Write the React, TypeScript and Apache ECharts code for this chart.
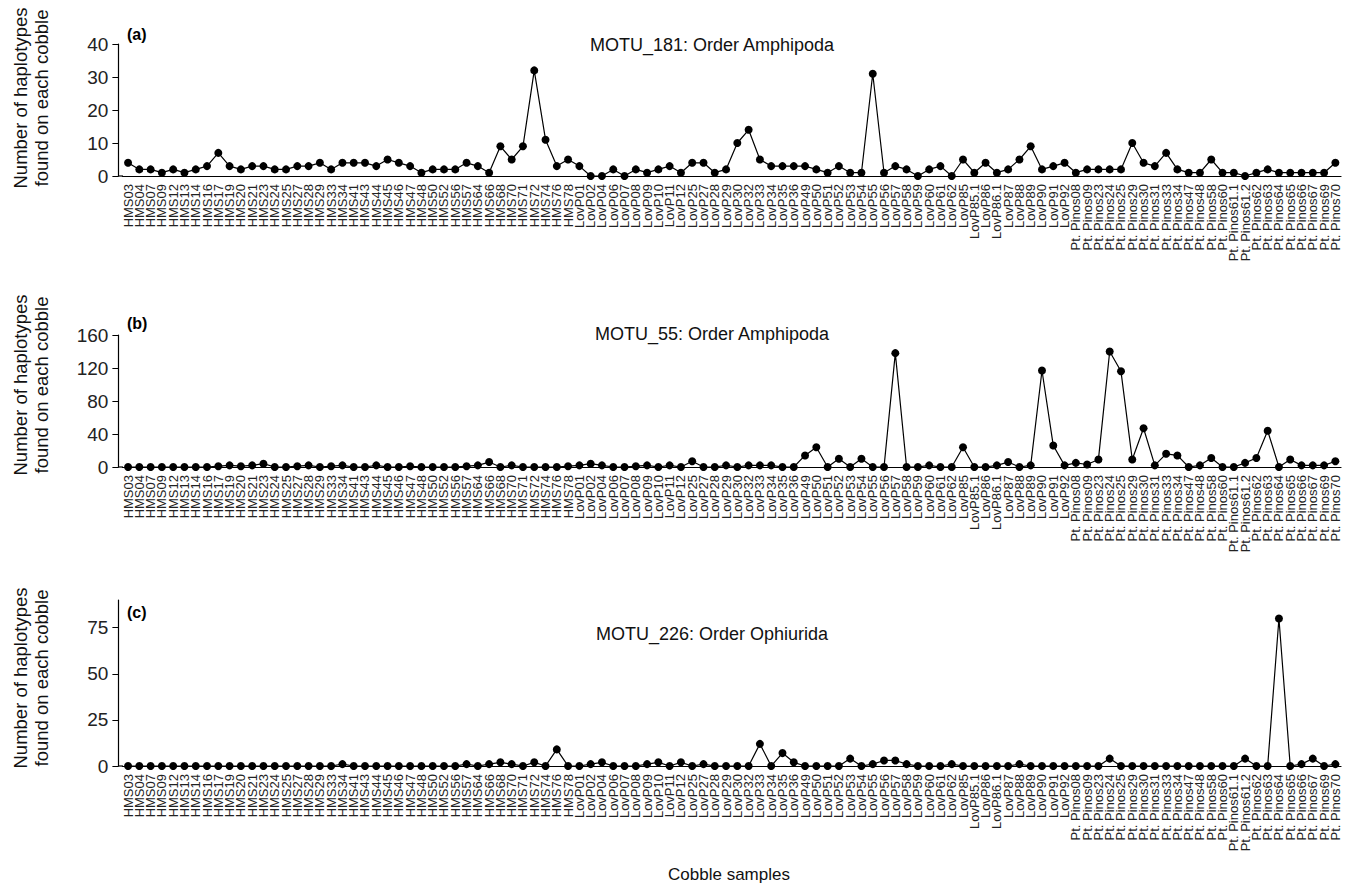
import React, { useEffect, useRef } from "react";
import * as echarts from "echarts";

const hmsLabels = ["HMS03","HMS04","HMS07","HMS09","HMS12","HMS13","HMS14","HMS16","HMS17","HMS19","HMS20","HMS21","HMS23","HMS24","HMS25","HMS27","HMS28","HMS29","HMS33","HMS34","HMS41","HMS43","HMS44","HMS45","HMS46","HMS47","HMS48","HMS50","HMS52","HMS56","HMS57","HMS64","HMS66","HMS68","HMS70","HMS71","HMS72","HMS74","HMS76","HMS78"];
const lovLabels = ["LovP01","LovP02","LovP04","LovP06","LovP07","LovP08","LovP09","LovP10","LovP11","LovP12","LovP25","LovP27","LovP28","LovP29","LovP30","LovP32","LovP33","LovP34","LovP35","LovP36","LovP49","LovP50","LovP51","LovP52","LovP53","LovP54","LovP55","LovP56","LovP57","LovP58","LovP59","LovP60","LovP61","LovP62","LovP85","LovP85.1","LovP86","LovP86.1","LovP87","LovP88","LovP89","LovP90","LovP91","LovP92"];
const ptLabels = ["Pt. Pinos08","Pt. Pinos09","Pt. Pinos23","Pt. Pinos24","Pt. Pinos25","Pt. Pinos29","Pt. Pinos30","Pt. Pinos31","Pt. Pinos33","Pt. Pinos34","Pt. Pinos47","Pt. Pinos48","Pt. Pinos58","Pt. Pinos60","Pt. Pinos61.1","Pt. Pinos61.2","Pt. Pinos62","Pt. Pinos63","Pt. Pinos64","Pt. Pinos65","Pt. Pinos66","Pt. Pinos67","Pt. Pinos69","Pt. Pinos70"];
const categories = [...hmsLabels, ...lovLabels, ...ptLabels];

const motu181 = [4,2,2,1,2,1,2,3,7,3,2,3,3,2,2,3,3,4,2,4,4,4,3,5,4,3,1,2,2,2,4,3,1,9,5,9,32,11,3,5,3,0,0,2,0,2,1,2,3,1,4,
  4,1,2,10,14,5,3,3,3,3,2,1,3,1,1,31,1,3,2,0,2,3,0,5,1,4,1,2,5,9,2,3,4,1,2,2,2,2,10,4,3,7,2,1,1,5,1,1,0,1,2,1,1,1,1,1,4];
const motu55 = [0,0,0,0,0,0,0,0,1,2,1,2,4,0,0,1,2,0,1,2,0,0,2,0,0,1,0,0,0,0,1,2,6,0,2,0,0,0,0,1,2,4,2,0,0,1,2,0,2,0,7,
  0,0,2,0,2,2,2,0,0,14,24,0,10,0,10,0,0,138,0,0,2,0,0,24,0,0,2,6,0,2,117,26,2,5,3,9,140,116,9,47,2,16,14,0,2,11,0,0,5,11,44,0,9,2,2,2,7];
const motu226 = [0,0,0,0,0,0,0,0,0,0,
  0,0,0,0,0,0,0,0,0,1,
  0,0,0,0,0,0,0,0,0,0,
  1,0,1,2,1,0,2,0,9,0,
  0,1,2,0,0,0,1,2,0,2,
  0,1,0,0,0,0,12,0,7,2,
  0,0,0,0,4,0,1,3,3,1,
  0,0,0,1,0,0,0,0,0,1,
  0,0,0,0,0,0,0,4,0,0,
  0,0,0,0,0,0,0,0,0,4,
  0,0,80,0,1,4,0,1];

const panelTags = ["(a)", "(b)", "(c)"];
const panelTitles = ["MOTU_181: Order Amphipoda", "MOTU_55: Order Amphipoda", "MOTU_226: Order Ophiurida"];
const yMax = [40, 160, 90];
const yInterval = [10, 40, 25];
const yName = ["Number of haplotypes", "found on each cobble"];
const xName = "Cobble samples";

const FONT = "'Liberation Sans', Arial, sans-serif";
const NARROW = "'Liberation Sans Narrow', 'Liberation Sans', Arial, sans-serif";

export default function App() {
  const ref = useRef<HTMLDivElement>(null);
  useEffect(() => {
    document.body.style.margin = "0";
    const chart = echarts.init(ref.current!, undefined, { renderer: "svg" });
    const grids = [
      { left: 122.4, right: 8, top: 44, height: 132 },
      { left: 122.4, right: 8, top: 335, height: 132 },
      { left: 122.4, right: 8, top: 600, height: 166 },
    ];
    const series = [motu181, motu55, motu226];
    const yCenters = [98, 385, 678];
    const tagY = [26, 315, 604];
    const titleY = [36, 325, 625];
    const graphic: any[] = [];
    for (let i = 0; i < 3; i++) {
      graphic.push({ type: "text", left: 127, top: tagY[i], style: { text: panelTags[i], font: `bold 16px ${FONT}`, fill: "#000" } });
      graphic.push({ type: "text", x: 712, y: titleY[i], style: { text: panelTitles[i], font: `18px ${FONT}`, fill: "#111", align: "center", verticalAlign: "top" } });
      graphic.push({ type: "text", x: 20, y: yCenters[i], rotation: Math.PI / 2, style: { text: yName[0], font: `18.5px ${FONT}`, fill: "#111", align: "center", verticalAlign: "middle" } });
      graphic.push({ type: "text", x: 41, y: yCenters[i], rotation: Math.PI / 2, style: { text: yName[1], font: `18.5px ${FONT}`, fill: "#111", align: "center", verticalAlign: "middle" } });
    }
    graphic.push({ type: "text", x: 729, y: 866, style: { text: xName, font: `17px ${NARROW}`, fill: "#111", align: "center", verticalAlign: "top" } });
    for (let i = 0; i < 3; i++) {
      const yb = grids[i].top + grids[i].height;
      graphic.push({ type: "line", shape: { x1: 118, y1: yb, x2: 123, y2: yb }, style: { stroke: "#000", lineWidth: 1.2 } });
    }

    chart.setOption({
      animation: false,
      grid: grids,
      xAxis: grids.map((_, i) => ({
        type: "category",
        gridIndex: i,
        data: categories,
        boundaryGap: true,
        axisLine: { lineStyle: { color: "#000", width: 1.2 } },
        axisTick: { alignWithLabel: true, length: 6, lineStyle: { color: "#000" } },
        axisLabel: { interval: 0, rotate: 90, margin: 8, fontSize: 13, fontFamily: FONT, color: "#222" },
      })),
      yAxis: grids.map((_, i) => ({
        type: "value",
        gridIndex: i,
        min: 0,
        max: yMax[i],
        interval: yInterval[i],
        offset: 4,
        splitLine: { show: false },
        axisLine: { show: true, lineStyle: { color: "#000", width: 1.2 } },
        axisTick: { show: true, length: 6, lineStyle: { color: "#000" } },
        axisLabel: { margin: 10, fontSize: 19, fontFamily: NARROW, color: "#222", showMaxLabel: i === 2 ? false : true },
      })),
      series: series.map((d, i) => ({
        type: "line",
        xAxisIndex: i,
        yAxisIndex: i,
        data: d,
        symbol: "circle",
        symbolSize: 8,
        showSymbol: true,
        lineStyle: { color: "#000", width: 1.2 },
        itemStyle: { color: "#000" },
      })),
      graphic,
    });
    return () => chart.dispose();
  }, []);
  return <div ref={ref} style={{ width: 1349, height: 888 }} />;
}
